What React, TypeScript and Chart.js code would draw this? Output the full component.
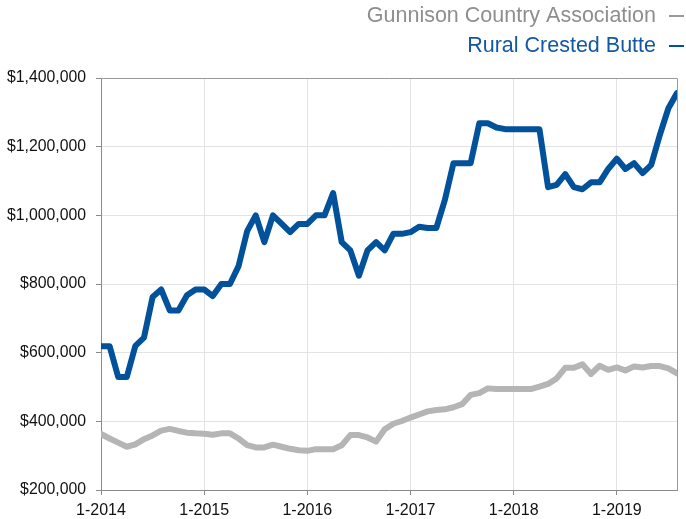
import { useEffect, useRef } from 'react';
import { Chart, registerables } from 'chart.js';

Chart.register(...registerables);

// Monthly values, Jan 2014 .. Aug 2019 (thousands of dollars)
const startYear = 2014;
const yearTicks = [0, 12, 24, 36, 48, 60];
const seriesNames = ['Gunnison Country Association', 'Rural Crested Butte'];
const gunnison = [
  363, 350, 338, 326, 333, 348, 359, 373, 378, 372,
  367, 365, 364, 361, 365, 365, 350, 331, 324, 324,
  332, 326, 320, 316, 314, 319, 319, 319, 330, 360,
  360, 353, 341, 377, 393, 401, 411, 420, 429, 433,
  435, 441, 450, 477, 482, 496, 494, 494, 494, 494,
  494, 501, 509, 525, 556, 556, 566, 538, 562, 550,
  557, 548, 560, 557, 561, 561, 554, 540,
];
const rural = [
  619, 619, 529, 529, 620, 644, 762, 784, 723, 723,
  767, 784, 784, 765, 800, 800, 852, 954, 1000, 922,
  1000, 976, 951, 975, 975, 1000, 1000, 1065, 922, 898,
  824, 898, 922, 898, 946, 946, 951, 967, 963, 963,
  1045, 1152, 1152, 1152, 1268, 1268, 1256, 1251, 1251, 1251,
  1251, 1251, 1082, 1089, 1120, 1082, 1076, 1096, 1096, 1135,
  1165, 1135, 1152, 1123, 1147, 1234, 1312, 1356,
];

const GRAY = '#b4b5b4';
const BLUE = '#02519b';
const GRAY_TEXT = '#8e8e8e';
const BLUE_TEXT = '#1458a3';
const FONT = '"Liberation Sans", Arial, Helvetica, sans-serif';

const framePlugin = {
  id: 'frame',
  afterDraw(chart: any) {
    const { ctx, chartArea } = chart;
    ctx.save();
    ctx.strokeStyle = '#9a9a9a';
    ctx.lineWidth = 1;
    ctx.beginPath();
    ctx.moveTo(chartArea.left, chartArea.top + 0.5);
    ctx.lineTo(chartArea.right + 0.5, chartArea.top + 0.5);
    ctx.lineTo(chartArea.right + 0.5, chartArea.bottom);
    ctx.stroke();
    ctx.restore();
  },
};

const legendPlugin = {
  id: 'customLegend',
  afterDraw(chart: any) {
    const { ctx } = chart;
    const items = [
      { text: seriesNames[0], color: GRAY_TEXT, line: '#9a9a9a', y: 16 },
      { text: seriesNames[1], color: BLUE_TEXT, line: BLUE, y: 46 },
    ];
    ctx.save();
    ctx.font = `21.5px ${FONT}`;
    ctx.textAlign = 'right';
    ctx.textBaseline = 'middle';
    for (const it of items) {
      ctx.fillStyle = it.color;
      ctx.fillText(it.text, 656, it.y);
      ctx.strokeStyle = it.line;
      ctx.lineWidth = 2;
      ctx.beginPath();
      ctx.moveTo(669, it.y);
      ctx.lineTo(684, it.y);
      ctx.stroke();
    }
    ctx.restore();
  },
};

export default function App() {
  const ref = useRef<HTMLCanvasElement>(null);
  useEffect(() => {
    if (!ref.current) return;
    const chart = new Chart(ref.current, {
      type: 'line',
      data: {
        datasets: [
          {
            label: seriesNames[0],
            data: gunnison.map((v, i) => ({ x: i, y: v * 1000 })),
            borderColor: GRAY,
            borderWidth: 6,
            pointRadius: 0,
            borderJoinStyle: 'round',
            borderCapStyle: 'round',
            tension: 0,
          },
          {
            label: seriesNames[1],
            data: rural.map((v, i) => ({ x: i, y: v * 1000 })),
            borderColor: BLUE,
            borderWidth: 6,
            pointRadius: 0,
            borderJoinStyle: 'round',
            borderCapStyle: 'round',
            tension: 0,
          },
        ],
      },
      options: {
        responsive: false,
        animation: false,
        layout: { padding: { top: 78, right: 9, left: 0, bottom: 0 } },
        plugins: { legend: { display: false }, tooltip: { enabled: false } },
        scales: {
          x: {
            type: 'linear',
            min: 0,
            max: rural.length - 1,
            afterBuildTicks: (s: any) => {
              s.ticks = yearTicks.map((v) => ({ value: v }));
            },
            afterFit: (s: any) => {
              s.height = 29;
            },
            grid: { color: '#e3e3e3', tickColor: '#8a8a8a', tickLength: 5, lineWidth: 1 },
            border: { color: '#8a8a8a', width: 1 },
            ticks: {
              padding: 6,
              color: '#111',
              font: { family: FONT, size: 16 },
              maxRotation: 0,
              autoSkip: false,
              callback: (v: any) => `1-${startYear + Math.round(Number(v) / 12)}`,
            },
          },
          y: {
            min: 200000,
            max: 1400000,
            afterFit: (s: any) => {
              s.width = 101;
            },
            grid: { color: '#e3e3e3', tickColor: '#8a8a8a', tickLength: 5, lineWidth: 1 },
            border: { color: '#8a8a8a', width: 1 },
            ticks: {
              stepSize: 200000,
              padding: 10,
              color: '#111',
              font: { family: FONT, size: 15.8 },
              callback: (v: any) => '$' + Number(v).toLocaleString('en-US'),
            },
          },
        },
      },
      plugins: [framePlugin, legendPlugin],
    } as any);
    return () => chart.destroy();
  }, []);
  return (
    <div style={{ position: 'fixed', left: 0, top: 0, width: 686, height: 519, background: '#fff' }}>
      <canvas ref={ref} width={686} height={519} style={{ display: 'block' }} />
    </div>
  );
}
